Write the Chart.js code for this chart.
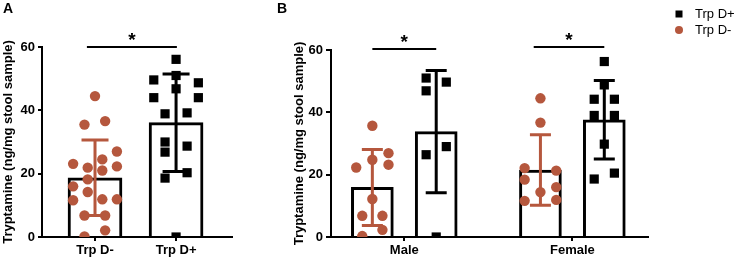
<!DOCTYPE html>
<html>
<head>
<meta charset="utf-8">
<script src="https://cdn.jsdelivr.net/npm/chart.js@4/dist/chart.umd.min.js"></script>
<style>
  body { margin: 0; background: #fff; }
  #wrap { position: relative; width: 736px; height: 261px; font-family: "Liberation Sans", Arial, sans-serif; color: #000; }
  canvas { position: absolute; top: 0; }
  #chartA { left: 0; }
  #chartB { left: 240px; }
  .panel { position: absolute; top: 1px; font-size: 14px; line-height: 14px; font-weight: bold; }
  .leg { position: absolute; left: 674px; height: 15px; display: flex; align-items: center; font-size: 13px; }
  .mk { display: inline-block; width: 9px; height: 9px; margin-right: 12px; position: relative; }
  .mk i { position: absolute; left: 50%; top: 50%; transform: translate(-50%, -50%); }
</style>
</head>
<body>
<div id="wrap">
  <canvas id="chartA" width="240" height="261"></canvas>
  <canvas id="chartB" width="496" height="261"></canvas>
  <div class="panel" style="left:3px">A</div>
  <div class="panel" style="left:277px">B</div>
</div>
<script>
// ---- data ----
const seriesNames = ['Trp D-', 'Trp D+'];
const yTitle = 'Tryptamine (ng/mg stool sample)';
const yTicks = [0, 20, 40, 60];

// panel A (all animals)
const catsA = ['Trp D-', 'Trp D+'];
const meanA = [18.7, 36.1];
const sdA = [11.9, 15.4];
const ptsA_minus = [44.5, 35.5, 36.6, 27.0, 24.5, 23.1, 21.9, 21.0, 22.3, 18.2, 16.0, 14.2, 11.6, 11.9, 11.9, 6.8, 6.8, 2.1, 0.2];
const jitA_minus = [0, -0.13, 0.125, 0.27, 0.09, -0.27, -0.09, 0.09, 0.27, -0.09, -0.27, -0.09, -0.27, 0.09, 0.27, -0.13, 0.125, 0.125, -0.13];
const ptsA_plus = [56.1, 51.0, 49.6, 48.7, 46.8, 44.0, 44.0, 38.9, 39.2, 30.0, 26.8, 28.7, 20.3, 18.6, 0];
const jitA_plus = [0, 0, -0.275, 0.275, 0, -0.275, 0.275, -0.136, 0.136, -0.136, -0.136, 0.136, 0.136, -0.136, 0];
const sigA = [{ from: -0.1, to: 1.01, y: 60 }];

// panel B (by sex)
const catsB = ['Male', 'Female'];
const meanB_minus = [15.9, 21.5];
const sdB_minus = [12.2, 11.3];
const meanB_plus = [33.8, 37.6];
const sdB_plus = [19.6, 12.6];
const ptsB_minus = [
  [35.7, 22.3, 24.8, 26.9, 23.2, 12.2, 6.8, 6.8, 2.3, 0.3],
  [44.5, 36.7, 22.1, 21.3, 18.4, 16.0, 14.4, 11.6, 11.9]
];
const jitB_minus = [
  [0, -0.096, 0, 0.096, 0.096, 0, -0.06, 0.06, 0.06, -0.06],
  [0, 0, -0.094, 0.094, -0.094, 0.094, 0, -0.094, 0.094]
];
const ptsB_plus = [
  [51.0, 49.7, 46.9, 26.4, 29.0, 0],
  [56.3, 48.8, 44.2, 44.2, 39.0, 39.0, 29.8, 20.5, 18.6]
];
const jitB_plus = [
  [-0.06, 0.06, -0.06, -0.06, 0.06, 0],
  [0, 0, -0.06, 0.06, -0.06, 0.06, 0, 0.06, -0.06]
];
const groupShiftB = [-0.19, 0.19];
const sigB = [{ from: -0.19, to: 0.19, y: 60.3 }, { from: 0.77, to: 1.19, y: 61 }];

// ---- styles ----
const black = '#000000';
const brown = '#B5573D';
const colors = [brown, black];
const styles = ['circle', 'rect'];
const radii = [5.2, 6.5];
const font = "'Liberation Sans', Arial, sans-serif";

// legend (Trp D+ listed first, like the original)
[1, 0].forEach(function (s, k) {
  const d = document.createElement('div');
  d.className = 'leg';
  d.style.top = (6 + k * 16) + 'px';
  const shape = s === 1
    ? '<i style="width:7px;height:7px;background:' + colors[s] + '"></i>'
    : '<i style="width:8px;height:8px;border-radius:50%;background:' + colors[s] + '"></i>';
  d.innerHTML = '<span class="mk">' + shape + '</span>' + seriesNames[s];
  document.getElementById('wrap').appendChild(d);
});

function scatterSet(s, vals, jit, center) {
  return {
    type: 'scatter',
    label: seriesNames[s],
    data: vals.map(function (v, i) { return { x: center + jit[i], y: v }; }),
    pointStyle: styles[s],
    pointRadius: radii[s],
    backgroundColor: colors[s],
    borderWidth: 0,
    order: 0
  };
}

// one bar dataset; errColors gives the whisker colour for each bar
function barSet(label, means, sds, shift, thickness, errColors) {
  return {
    type: 'bar',
    label: label,
    data: means.map(function (m, i) { return { x: i + shift, y: m }; }),
    sd: sds,
    errColors: errColors,
    backgroundColor: '#ffffff',
    borderColor: black,
    borderWidth: 3,
    barThickness: thickness,
    grouped: false,
    order: 2
  };
}

// SD whiskers, drawn right after each bar dataset (so points sit on top)
const errorBars = {
  id: 'errorBars',
  afterDatasetDraw(chart, args) {
    const ds = chart.data.datasets[args.index];
    if (!ds.sd) return;
    const ctx = chart.ctx, xs = chart.scales.x, ys = chart.scales.y;
    const half = ds.barThickness / 4;
    ctx.save();
    ctx.lineWidth = 3;
    ds.data.forEach(function (d, i) {
      const px = xs.getPixelForValue(d.x);
      const top = ys.getPixelForValue(d.y + ds.sd[i]);
      const bot = ys.getPixelForValue(d.y - ds.sd[i]);
      ctx.strokeStyle = ds.errColors[i];
      ctx.beginPath();
      ctx.moveTo(px, top); ctx.lineTo(px, bot);
      ctx.moveTo(px - half, top); ctx.lineTo(px + half, top);
      ctx.moveTo(px - half, bot); ctx.lineTo(px + half, bot);
      ctx.stroke();
    });
    ctx.restore();
  }
};

// significance lines with star
const sigBars = {
  id: 'sigBars',
  afterDraw(chart, args, opts) {
    const ctx = chart.ctx, xs = chart.scales.x, ys = chart.scales.y;
    ctx.save();
    ctx.strokeStyle = black;
    ctx.fillStyle = black;
    ctx.lineWidth = 2;
    ctx.font = 'bold 19px ' + font;
    ctx.textAlign = 'center';
    ctx.textBaseline = 'alphabetic';
    (opts.pairs || []).forEach(function (p) {
      const x1 = xs.getPixelForValue(p.from), x2 = xs.getPixelForValue(p.to);
      const py = ys.getPixelForValue(p.y);
      ctx.beginPath(); ctx.moveTo(x1, py); ctx.lineTo(x2, py); ctx.stroke();
      ctx.fillText('*', (x1 + x2) / 2, py - 1);
    });
    ctx.restore();
  }
};

function makeScales(cats, xMin, xMax, yWidth, yTickLen) {
  const tickFont = { family: font, size: 13, weight: 'bold' };
  return {
    x: {
      type: 'linear',
      min: xMin,
      max: xMax,
      bounds: 'data',
      offset: false,
      afterBuildTicks: function (s) { s.ticks = cats.map(function (c, i) { return { value: i }; }); },
      afterFit: function (s) { s.height = 24; },
      ticks: { callback: function (v) { return cats[v]; }, color: black, font: tickFont, padding: 2, maxRotation: 0, autoSkip: false },
      grid: { offset: false, drawOnChartArea: false, drawTicks: true, tickLength: 4, color: black, lineWidth: 2 },
      border: { color: black, width: 2 }
    },
    y: {
      min: 0,
      max: 60,
      afterBuildTicks: function (s) { s.ticks = yTicks.map(function (v) { return { value: v }; }); },
      afterFit: function (s) { s.width = yWidth; },
      ticks: { color: black, font: tickFont, padding: 3 },
      grid: { drawOnChartArea: false, drawTicks: true, tickLength: yTickLen, color: black, lineWidth: 2 },
      border: { color: black, width: 2 },
      title: { display: true, text: yTitle, color: black, font: tickFont, padding: { top: 1, bottom: 0 } }
    }
  };
}

const baseOptions = {
  responsive: false,
  animation: false,
  events: [],
  plugins: { legend: { display: false }, tooltip: { enabled: false } }
};

// Panel A
new Chart(document.getElementById('chartA').getContext('2d'), {
  type: 'bar',
  data: {
    datasets: [
      scatterSet(0, ptsA_minus, jitA_minus, 0),
      scatterSet(1, ptsA_plus, jitA_plus, 1),
      barSet('mean', meanA, sdA, 0, 54, colors)
    ]
  },
  options: Object.assign({}, baseOptions, {
    layout: { padding: { left: 0, right: 8, top: 47, bottom: 0 } },
    scales: makeScales(catsA, -0.654, 1.69, 42, 4),
    plugins: Object.assign({}, baseOptions.plugins, { sigBars: { pairs: sigA } })
  }),
  plugins: [errorBars, sigBars]
});

// Panel B
const setsB = [];
catsB.forEach(function (c, g) {
  setsB.push(scatterSet(0, ptsB_minus[g], jitB_minus[g], g + groupShiftB[0]));
  setsB.push(scatterSet(1, ptsB_plus[g], jitB_plus[g], g + groupShiftB[1]));
});
setsB.push(barSet(seriesNames[0], meanB_minus, sdB_minus, groupShiftB[0], 42, [brown, brown]));
setsB.push(barSet(seriesNames[1], meanB_plus, sdB_plus, groupShiftB[1], 42, [black, black]));

new Chart(document.getElementById('chartB').getContext('2d'), {
  type: 'bar',
  data: { datasets: setsB },
  options: Object.assign({}, baseOptions, {
    layout: { padding: { left: 51, right: 88, top: 50, bottom: 0 } },
    scales: makeScales(catsB, -0.436, 1.45, 40, 5),
    plugins: Object.assign({}, baseOptions.plugins, { sigBars: { pairs: sigB } })
  }),
  plugins: [errorBars, sigBars]
});
</script>
</body>
</html>
